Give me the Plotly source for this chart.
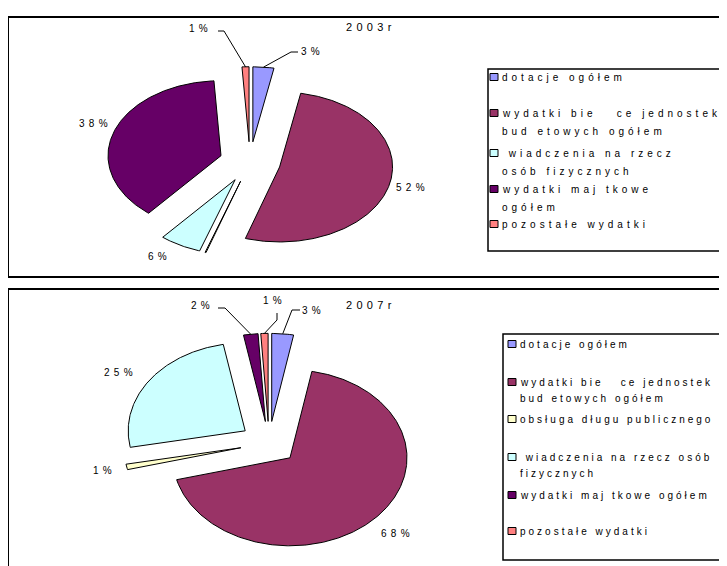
import numpy as np
import plotly.graph_objects as go

W, H = 727, 566          # browser window
PAD = 8                  # default page margin around the plot div
NB = "\u00a0"

# ---------------- data ----------------
categories = [
    "dotacje ogółem",
    "wydatki bie" + NB * 3 + "ce jednostek bud" + NB + "etowych ogółem",
    "obsługa długu publicznego",
    NB + "wiadczenia na rzecz osób fizycznych",
    "wydatki maj" + NB + "tkowe ogółem",
    "pozostałe wydatki",
]
colors = ["#9999FF", "#993366", "#FFFFCC", "#CCFFFF", "#660066", "#FF8080"]

values_2003 = [3, 52, 0.2, 6, 38, 1]
shown_2003 = [True, True, False, True, True, True]
values_2007 = [3, 68, 1, 25, 2, 1]
shown_2007 = [True, True, True, True, True, True]

legend_lines_2003 = [
    ["dotacje ogółem"],
    ["wydatki bie" + NB * 3 + "ce jednostek", "bud" + NB + "etowych ogółem"],
    None,
    [NB + "wiadczenia na rzecz", "osób fizycznych"],
    ["wydatki maj" + NB + "tkowe", "ogółem"],
    ["pozostałe wydatki"],
]
legend_lines_2007 = [
    ["dotacje ogółem"],
    ["wydatki bie" + NB * 3 + "ce jednostek", "bud" + NB + "etowych ogółem"],
    ["obsługa długu publicznego"],
    [NB + "wiadczenia na rzecz osób", "fizycznych"],
    ["wydatki maj" + NB + "tkowe ogółem"],
    ["pozostałe wydatki"],
]
titles = ["2003r", "2007r"]

# ---------------- layout parameters (page pixels) ----------------
FONT = "Liberation Sans, Arial, sans-serif"
charts = [
    dict(values=values_2003, shown=shown_2003, legend=legend_lines_2003, title=titles[0],
         cx=250, cy=162, rx=113, ry=75, e=0.27, xa="x", ya="y",
         title_pos=(371, 27),
         label_pos=[(312, 52), (412, 188), None, (159, 256), (95, 124), (200, 29)],
         leaders={0: [(298, 52), (291, 52)], 5: [(218, 31), (224, 31)]},
         box=(8, 17, 760, 277), lbox=(488, 69, 760, 251),
         leg_x=490, leg_y=[77, 113, None, 153, 189, 224], leg_sp=4.0, leg_line=18),
    dict(values=values_2007, shown=shown_2007, legend=legend_lines_2007, title=titles[1],
         cx=269, cy=443, rx=117, ry=88, e=0.246, xa="x2", ya="y2",
         title_pos=(371, 305),
         label_pos=[(313, 310), (398, 533), (104, 470), (120, 372), (202, 305), (274, 300)],
         leaders={0: [(300, 310), (292, 310)], 4: [(218, 308), (225, 308)],
                  5: [(277, 313), (277, 320)]},
         box=(8, 289, 760, 600), lbox=(503, 334, 760, 560),
         leg_x=508, leg_y=[344, 382, 419, 457, 495, 531], leg_sp=3.0, leg_line=16.5),
]

FW, FH = W - PAD, H - PAD  # figure size


def spaced(t, sp):
    return '<span style="letter-spacing:%.1fpx">%s</span>' % (sp, t)


def pxx(x):
    return (x - PAD) / FW


def pxy(y):
    return 1 - (y - PAD) / FH


fig = go.Figure()
shapes = []
annotations = []

for ch in charts:
    vals = ch["values"]
    total = float(sum(vals))
    cx, cy, rx, ry, e = ch["cx"], ch["cy"], ch["rx"], ch["ry"], ch["e"]

    def to_data(p):
        return ((p[0] - cx) / rx, (cy - p[1]) / ry)

    a = 0.0
    for i, v in enumerate(vals):
        a0, a1 = a, a + 360.0 * v / total
        a = a1
        m = np.radians((a0 + a1) / 2)
        ox, oy = e * np.sin(m), e * np.cos(m)
        th = np.radians(np.linspace(a0, a1, max(4, int((a1 - a0) * 1.5))))
        xs = np.concatenate([[ox], ox + np.sin(th), [ox]])
        ys = np.concatenate([[oy], oy + np.cos(th), [oy]])
        fig.add_trace(go.Scatter(
            x=xs, y=ys, mode="lines", fill="toself", fillcolor=colors[i],
            line=dict(color="black", width=1), xaxis=ch["xa"], yaxis=ch["ya"],
            name=categories[i], showlegend=False, hoverinfo="skip"))

        if not ch["shown"][i]:
            continue
        # percentage label
        lp = ch["label_pos"][i]
        annotations.append(dict(
            x=pxx(lp[0]), y=pxy(lp[1]), xref="paper", yref="paper",
            text=spaced("%d%%" % round(100 * v / total), 4.3), showarrow=False,
            xanchor="center", yanchor="middle",
            font=dict(family=FONT, size=10, color="black")))
        # leader line
        if i in ch["leaders"]:
            pts = [to_data(p) for p in ch["leaders"][i]]
            pts.append((ox + np.sin(m), oy + np.cos(m)))
            fig.add_trace(go.Scatter(
                x=[p[0] for p in pts], y=[p[1] for p in pts], mode="lines",
                line=dict(color="black", width=1), xaxis=ch["xa"], yaxis=ch["ya"],
                showlegend=False, hoverinfo="skip"))

        # legend
        ly = ch["leg_y"][i]
        lx = ch["leg_x"]
        shapes.append(dict(type="rect", xref="paper", yref="paper",
                           x0=pxx(lx), x1=pxx(lx + 8), y0=pxy(ly - 3.5), y1=pxy(ly + 3.5),
                           fillcolor=colors[i], line=dict(color="black", width=1)))
        for k, line in enumerate(ch["legend"][i]):
            annotations.append(dict(
                x=pxx(lx + 10), y=pxy(ly + k * ch["leg_line"]), xref="paper", yref="paper",
                text=spaced(line, ch["leg_sp"]), showarrow=False,
                xanchor="left", yanchor="middle",
                font=dict(family=FONT, size=10, color="black")))

    # chart title
    annotations.append(dict(
        x=pxx(ch["title_pos"][0]), y=pxy(ch["title_pos"][1]), xref="paper", yref="paper",
        text=spaced(ch["title"], 4.3), showarrow=False, xanchor="center", yanchor="middle",
        font=dict(family=FONT, size=11, color="black")))

    # frames
    b = ch["box"]
    shapes.append(dict(type="rect", xref="paper", yref="paper", x0=pxx(b[0]), x1=pxx(b[2]),
                       y0=pxy(b[3]), y1=pxy(b[1]), line=dict(color="black", width=2),
                       layer="below"))
    lb = ch["lbox"]
    shapes.append(dict(type="rect", xref="paper", yref="paper", x0=pxx(lb[0]), x1=pxx(lb[2]),
                       y0=pxy(lb[3]), y1=pxy(lb[1]), line=dict(color="black", width=1.5),
                       layer="below"))

axis_common = dict(visible=False, showgrid=False, zeroline=False, fixedrange=True, domain=[0, 1])
c0, c1 = charts
fig.update_layout(
    width=FW, height=FH, autosize=False,
    margin=dict(l=0, r=0, t=0, b=0),
    paper_bgcolor="white", plot_bgcolor="rgba(0,0,0,0)",
    showlegend=False,
    xaxis=dict(range=[(PAD - c0["cx"]) / c0["rx"], (W - c0["cx"]) / c0["rx"]], **axis_common),
    yaxis=dict(range=[-(H - c0["cy"]) / c0["ry"], (c0["cy"] - PAD) / c0["ry"]], **axis_common),
    xaxis2=dict(range=[(PAD - c1["cx"]) / c1["rx"], (W - c1["cx"]) / c1["rx"]], anchor="y2", **axis_common),
    yaxis2=dict(range=[-(H - c1["cy"]) / c1["ry"], (c1["cy"] - PAD) / c1["ry"]], anchor="x2", **axis_common),
    shapes=shapes,
    annotations=annotations,
)

fig.write_html("out.html")
